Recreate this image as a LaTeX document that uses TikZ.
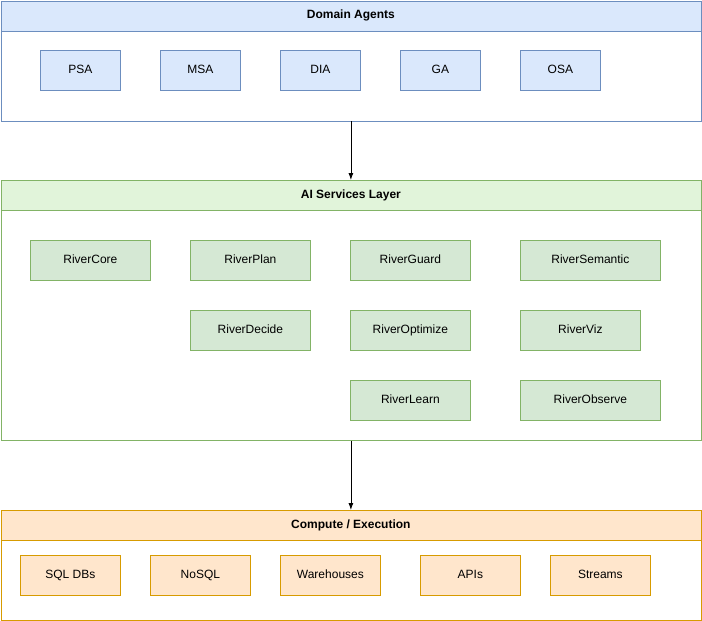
\documentclass[tikz,border=0pt]{standalone}
\usepackage{fontspec}
\setmainfont{Liberation Sans}
\usetikzlibrary{arrows.meta}
\definecolor{blueF}{HTML}{DAE8FC}
\definecolor{blueD}{HTML}{6C8EBF}
\definecolor{greenF}{HTML}{D5E8D4}
\definecolor{greenH}{HTML}{E1F4DA}
\definecolor{greenD}{HTML}{82B366}
\definecolor{orangeF}{HTML}{FFE6CC}
\definecolor{orangeD}{HTML}{D79B00}
\tikzset{
  box/.style={draw, line width=0.8pt, inner sep=0pt, text height=8.5pt, text depth=2.5pt, font=\fontsize{12}{14}\selectfont},
  head/.style={box, font=\fontsize{12}{14}\selectfont\bfseries},
}
\begin{document}
\begin{tikzpicture}[x=1pt, y=-1pt]
	\useasboundingbox (0,0) rectangle (702,621);
	% Domain Agents
	\node[box, draw=blueD, fill=white, minimum width=700pt, minimum height=120pt, anchor=north west] (dom) at (0.5,0.5) {};
	\node[head, draw=blueD, fill=blueF, minimum width=700pt, minimum height=30pt, anchor=north west] (domH) at (0.5,0.5) {Domain Agents};
	\foreach \x/\t in {40/PSA, 160/MSA, 280/DIA, 400/GA, 520/OSA}
		\node[box, draw=blueD, fill=blueF, minimum width=80pt, minimum height=40pt, anchor=north west] (\t) at (\x,50) {\t};
	
	% AI Services
	\node[box, draw=greenD, fill=white, minimum width=700pt, minimum height=260pt, anchor=north west] (ai) at (0.5,180) {};
	\node[head, draw=greenD, fill=greenH, minimum width=700pt, minimum height=30pt, anchor=north west] (aiH) at (0.5,180) {AI Services Layer};
	\foreach \x/\y/\w/\t in {30/240/120/RiverCore, 190/240/120/RiverPlan, 350/240/120/RiverGuard, 520/240/140/RiverSemantic,
		190/310/120/RiverDecide, 350/310/120/RiverOptimize, 520/310/120/RiverViz,
		350/380/120/RiverLearn, 520/380/140/RiverObserve}
		\node[box, draw=greenD, fill=greenF, minimum width=\w pt, minimum height=40pt, anchor=north west] (\t) at (\x,\y) {\t};
	
	% Compute
	\node[box, draw=orangeD, fill=white, minimum width=700pt, minimum height=110pt, anchor=north west] (cmp) at (0.5,510) {};
	\node[head, draw=orangeD, fill=orangeF, minimum width=700pt, minimum height=30pt, anchor=north west] (cmpH) at (0.5,510) {Compute / Execution};
	\foreach \x/\n/\t in {20/sql/SQL DBs, 150/nosql/NoSQL, 280/wh/Warehouses, 420/api/APIs, 550/str/Streams}
		\node[box, draw=orangeD, fill=orangeF, minimum width=100pt, minimum height=40pt, anchor=north west] (\n) at (\x,555) {\t};
	
	\draw[-{Latex[length=7pt,width=5pt]}, line width=0.8pt] (dom.south) -- (aiH.north);
	\draw[-{Latex[length=7pt,width=5pt]}, line width=0.8pt] (ai.south) -- (cmpH.north);
\end{tikzpicture}
\end{document}
